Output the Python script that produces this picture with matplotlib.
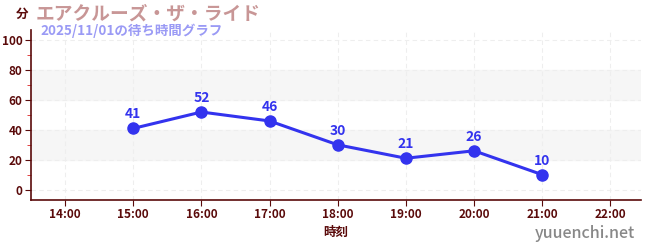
import matplotlib.pyplot as plt
from matplotlib.ticker import MultipleLocator

plt.rcParams['font.family'] = ['Noto Sans CJK JP', 'DejaVu Sans']

# データ
hours = [15, 16, 17, 18, 19, 20, 21]
waits = [41, 52, 46, 30, 21, 26, 10]
xticks = [14, 15, 16, 17, 18, 19, 20, 21, 22]
xlabels = ['%d:00' % h for h in xticks]
title = 'エアクルーズ・ザ・ライド'
subtitle = '2025/11/01の待ち時間グラフ'

dark = '#5a0a0a'
blue = '#3333ee'

fig = plt.figure(figsize=(6.5, 2.5), dpi=100)
ax = fig.add_axes([31 / 650, 50 / 250, 610 / 650, 170 / 250])

for lo in (20, 60):
    ax.axhspan(lo, lo + 20, color='#f6f6f6', zorder=0)

ax.plot(hours, waits, color=blue, lw=2.2, marker='o', ms=8, zorder=3)
for h, w in zip(hours, waits):
    ax.annotate(str(w), (h, w), xytext=(0, 5), textcoords='offset points',
                ha='center', va='bottom', color=blue, fontsize=10, fontweight='bold')

ax.set_xlim(13.5, 22.45)
ax.set_ylim(-7, 107)
ax.set_xticks(xticks)
ax.set_xticklabels(xlabels)
ax.yaxis.set_major_locator(MultipleLocator(20))
ax.yaxis.set_minor_locator(MultipleLocator(10))
ax.grid(True, which='major', ls=(0, (4, 3)), color='#eeeeee', lw=0.8)
ax.set_axisbelow(True)

for s in ('top', 'right'):
    ax.spines[s].set_visible(False)
for s in ('left', 'bottom'):
    ax.spines[s].set_color(dark)
    ax.spines[s].set_linewidth(1.2)
ax.tick_params(axis='both', which='major', colors=dark, labelsize=8.5, length=4, pad=2)
ax.tick_params(axis='y', which='minor', color='#dd2222', length=3)
for lab in ax.get_xticklabels() + ax.get_yticklabels():
    lab.set_fontweight('bold')

ax.set_xlabel('時刻', color=dark, fontsize=9, fontweight='bold', labelpad=3)

fig.text(22 / 650, 1 - 14 / 250, '分', color=dark, fontsize=9, fontweight='bold',
         ha='center', va='center')
fig.text(36 / 650, 1 - 14 / 250, title, color='#c89696', fontsize=13.5, fontweight='bold',
         va='center')
fig.text(40 / 650, 1 - 31 / 250, subtitle, color='#9a9af5', fontsize=9.7, fontweight='bold',
         va='center')
fig.text(635 / 650, 1 - 234 / 250, 'yuuenchi.net', color='#888888', fontsize=11.5,
         fontweight='medium', ha='right', va='center')

fig.savefig('out.png', dpi=100)
